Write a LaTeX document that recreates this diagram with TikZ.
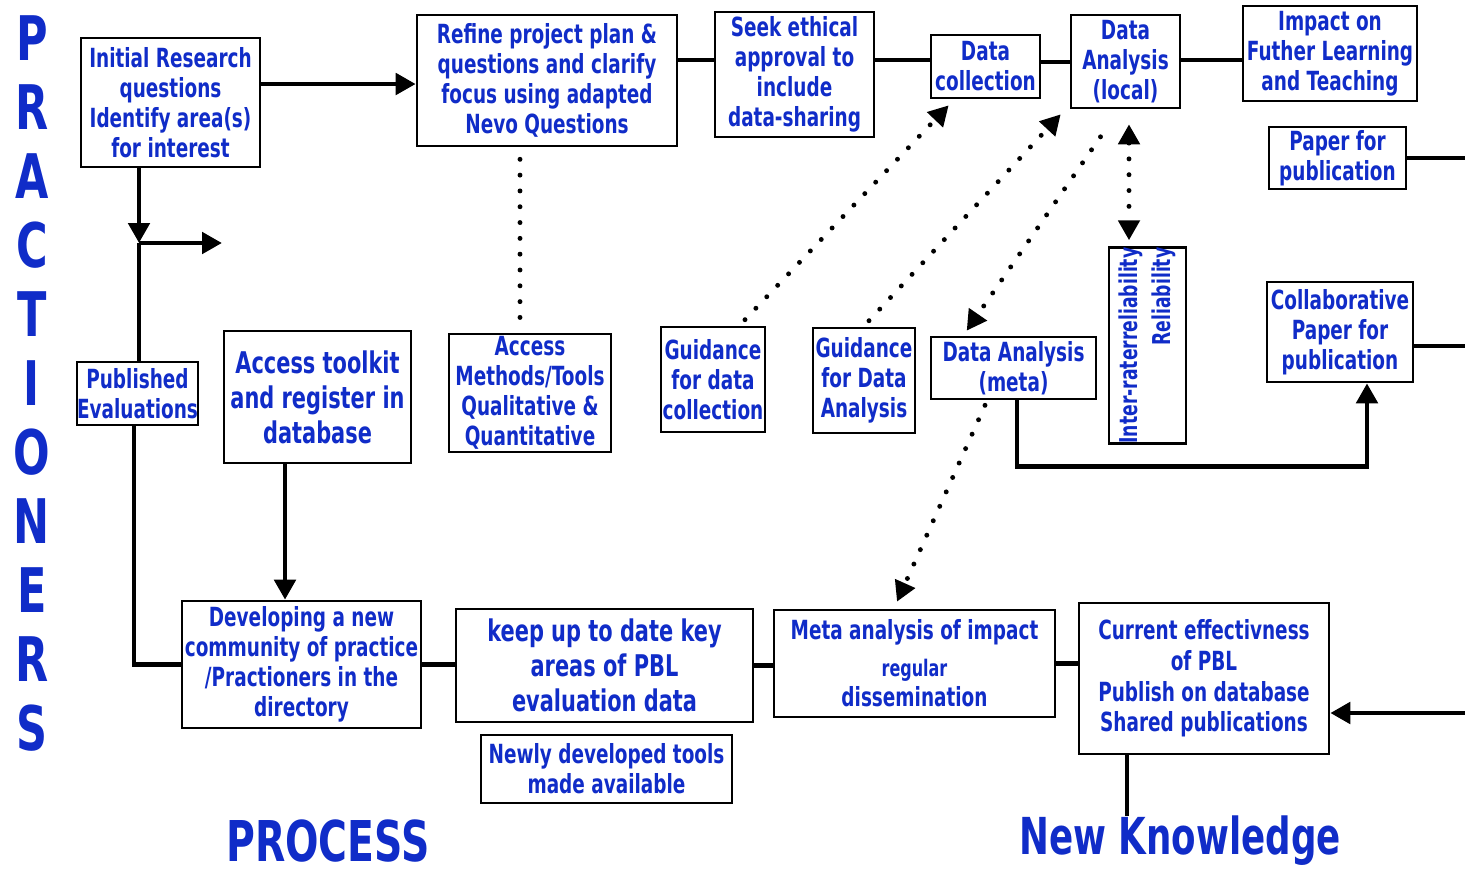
\documentclass[tikz,border=0pt]{standalone}
\usepackage{fontspec}
\newfontfamily\boxfont{DejaVu Sans}[FakeStretch=0.7]
\usepackage{tikz}
\usetikzlibrary{arrows.meta}
\definecolor{inkblue}{RGB}{16,44,200}
\tikzstyle{box}=[rectangle, draw=black, line width=1.5pt, fill=white, text=inkblue, align=center, inner sep=0pt,
        font=\boxfont\bfseries\fontsize{15}{17}\selectfont]
\tikzstyle{bigbox}=[box, font=\boxfont\bfseries\fontsize{17}{20}\selectfont]
\tikzstyle{side}=[text=inkblue, inner sep=0pt, font=\boxfont\bfseries\fontsize{35}{35}\selectfont]
\tikzstyle{title}=[text=inkblue, inner sep=0pt, font=\boxfont\bfseries\fontsize{32}{32}\selectfont]
\tikzstyle{link}=[draw=black, line width=2.8pt]
\tikzstyle{dots}=[draw=black, line width=2.8pt, line cap=round, dash pattern=on 0pt off 9pt]

\begin{document}
\begin{tikzpicture}[x=0.02cm, y=-0.02cm, >={Triangle[length=0.4cm,width=0.42cm]}]
\useasboundingbox (0,0) rectangle (1465,873);
\coordinate (rim) at (1465,0);
\coordinate (split) at (139,243);
\coordinate (branch) at (222,243);

\foreach \l [count=\i from 0] in {P,R,A,C,T,I,O,N,E,R,S}
  \node[side] (side\i) at (32,{38+69*\i}) {\l};

\node[box, minimum width=3.58cm, minimum height=2.58cm] (A) at (170.5,102.5) {Initial Research\\questions\\Identify area(s)\\for interest};
\node[box, minimum width=5.2cm, minimum height=2.62cm] (B) at (547,80.5) {Refine project plan \&\\questions and clarify\\focus using adapted\\Nevo Questions};
\node[box, minimum width=3.18cm, minimum height=2.5cm] (C) at (794.5,74.5) {Seek ethical\\approval to\\include\\data-sharing};
\node[box, minimum width=2.18cm, minimum height=1.26cm] (D) at (985.5,66.5) {Data\\collection};
\node[box, minimum width=2.18cm, minimum height=1.86cm] (E) at (1125.5,61.5) {Data\\Analysis\\(local)};
\node[box, minimum width=3.48cm, minimum height=1.9cm] (F) at (1330,53.5) {Impact on\\Futher Learning\\and Teaching};
\node[box, minimum width=2.74cm, minimum height=1.24cm] (G) at (1337.5,158) {Paper for\\publication};
\node[box, minimum width=2.42cm, minimum height=1.26cm] (H) at (137.5,393.5) {Published\\Evaluations};
\node[bigbox, minimum width=3.74cm, minimum height=2.64cm] (I) at (317.5,397) {Access toolkit\\and register in\\database};
\node[box, minimum width=3.24cm, minimum height=2.36cm] (J) at (530,393) {Access\\Methods/Tools\\Qualitative \&\\Quantitative};
\node[box, minimum width=2.08cm, minimum height=2.1cm] (K) at (713,379.5) {Guidance\\for data\\collection};
\node[box, minimum width=2.04cm, minimum height=2.1cm] (L) at (864,380.5) {Guidance\\for Data\\Analysis};
\node[box, minimum width=3.3cm, minimum height=1.24cm] (M) at (1013.5,368) {Data Analysis\\(meta)};
\node[box, rotate=90, align=right, minimum width=3.7cm, minimum height=1.54cm,
      font=\boxfont\bfseries\fontsize{14}{19}\selectfont] (N) at (1147.5,345.5) {Inter-raterreliability\\Reliability};
\node[box, minimum width=2.92cm, minimum height=2cm] (O) at (1340,332) {Collaborative\\Paper for\\publication};
\node[box, minimum width=4.78cm, minimum height=2.54cm] (P) at (301.5,664.5) {Developing a new\\community of practice\\/Practioners in the\\directory};
\node[bigbox, minimum width=5.94cm, minimum height=2.26cm] (Q) at (604.5,665.5) {keep up to date key\\areas of PBL\\evaluation data};
\node[box, minimum width=5.02cm, minimum height=1.36cm] (R) at (606.5,769) {Newly developed tools\\made available};
\node[box, minimum width=5.62cm, minimum height=2.14cm] (S) at (914.5,663.5) {Meta analysis of impact\\[4pt]\fontsize{13}{11}\selectfont regular\\[0pt]dissemination};
\node[box, minimum width=5cm, minimum height=3.02cm, font=\boxfont\bfseries\fontsize{15}{17.5}\selectfont] (T) at (1204,678.5) {Current effectivness\\of PBL\\Publish on database\\Shared publications};

\node[title] (process) at (328,841) {PROCESS};
\node[title, font=\boxfont\bfseries\fontsize{29}{29}\selectfont] (newknow) at (1180,841) {New Knowledge};

\draw[link,->] ([yshift=0.37cm]A.east) -- ([yshift=0.37cm]A.east -| B.west);
\draw[link] ([yshift=0.29cm]C.west) -- ([yshift=0.29cm]C.west -| B.east);
\draw[link] ([yshift=0.13cm]D.west) -- ([yshift=0.13cm]D.west -| C.east);
\draw[link] ([yshift=0.09cm]D.east) -- ([yshift=0.09cm]D.east -| E.west);
\draw[link] ([yshift=-0.13cm]F.west) -- ([yshift=-0.13cm]F.west -| E.east);
\draw[link] (G.east) -- (G.east -| rim);
\draw[link,->] (split |- A.south) -- (split);
\draw[link,->] (split) -- (branch);
\draw[link] (split) -- (split |- H.north);
\draw[link] ([xshift=-0.07cm]H.south) |- (P.west);
\draw[link,->] ([xshift=-0.65cm]I.south) -- ([xshift=-0.65cm]I.south |- P.north);
\draw[link] (P.east) -- (P.east -| Q.west);
\draw[link] (Q.east) -- (Q.east -| S.west);
\draw[link] (S.east) -- (S.east -| T.west);
\draw[link] ([xshift=-1.54cm]T.south) -- ([xshift=-1.54cm]T.south |- newknow.north);
\draw[link,->] ([yshift=-0.69cm]T.east -| rim) -- ([yshift=-0.69cm]T.east);
\draw[link,->] ([xshift=0.07cm]M.south) -- ++(0,66) -| ([xshift=0.54cm]O.south);
\draw[link] ([yshift=-0.28cm]O.east) -- ([yshift=-0.28cm]O.east -| rim);

\draw[dots] ([xshift=-0.54cm,yshift=-0.24cm]B.south) -- ([xshift=-0.54cm]B.south |- J.north);
\draw[dots,->] ([xshift=0.64cm,yshift=0.12cm]K.north) -- ([xshift=0.38cm,yshift=-0.12cm]D.south west);
\draw[dots,->] ([xshift=0.1cm,yshift=0.12cm]L.north) -- ([xshift=-0.18cm,yshift=-0.1cm]E.south west);
\draw[dots,->] ([xshift=-0.5cm,yshift=-0.55cm]E.south) -- ([xshift=0.74cm,yshift=0.1cm]M.north west);
\draw[dots,->] ([xshift=-0.57cm,yshift=-0.1cm]M.south) -- ([xshift=-0.35cm,yshift=0.14cm]S.north);
\draw[dots,<->] ([xshift=0.07cm,yshift=-0.3cm]E.south) -- ([xshift=-0.37cm,yshift=0.12cm]N.east);
\end{tikzpicture}
\end{document}
